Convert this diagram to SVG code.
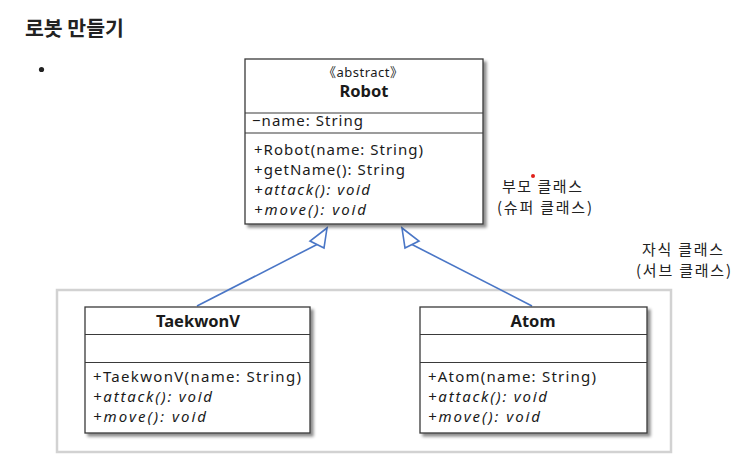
<svg xmlns="http://www.w3.org/2000/svg" width="747" height="460" viewBox="0 0 747 460">
  <style>
    text { font-family: "Noto Sans", "Noto Sans CJK KR", sans-serif; fill: #1a1a1a; }
    .ko { font-family: "Noto Sans CJK KR", "Noto Sans", sans-serif; }
    .title { font-size: 20.5px; font-weight: bold; fill: #222; }
    .name { font-size: 16.5px; font-weight: bold; text-anchor: middle; }
    .stereo { font-size: 13px; }
    .mem { font-size: 15px; }
    .abs { font-size: 15px; font-style: italic; }
    .label { font-size: 15px; fill: #222; }
    .box { fill: #fff; stroke: #3a3a3a; stroke-width: 1.3; }
    .div { stroke: #3a3a3a; stroke-width: 1.2; }
    .conn { stroke: #4a76c6; stroke-width: 1.6; fill: none; }
    .head { stroke: #4a76c6; stroke-width: 1.6; fill: #fff; stroke-linejoin: miter; }
  </style>
  <defs>
    <filter id="shadow" x="-5%" y="-5%" width="115%" height="115%">
      <feDropShadow dx="3" dy="3" stdDeviation="1.4" flood-color="#000" flood-opacity="0.45"/>
    </filter>
  </defs>
  <rect width="747" height="460" fill="#fff"/>

  <text class="title ko" x="25" y="36">로봇 만들기</text>
  <circle cx="41.5" cy="69.5" r="2.6" fill="#222"/>

  <rect id="subclass-area" x="57" y="290" width="614" height="162" fill="none" stroke="#d2d2d2" stroke-width="2.5"/>

  <g id="connectors">
    <line class="conn" x1="197" y1="306" x2="317" y2="244.5"/>
    <polygon class="head" points="327,228 310,241 324,248"/>
    <line class="conn" x1="532" y1="306" x2="412" y2="244.5"/>
    <polygon class="head" points="402,228 419,241 405,248"/>
  </g>

  <g id="robot">
    <rect class="box" x="245" y="59" width="238" height="165" filter="url(#shadow)"/>
    <text class="stereo" x="323" y="77" textLength="80">《abstract》</text>
    <text class="name" x="364" y="97">Robot</text>
    <line class="div" x1="245" y1="113" x2="483" y2="113"/>
    <text class="mem" x="252" y="126" textLength="111">−name: String</text>
    <line class="div" x1="245" y1="133" x2="483" y2="133"/>
    <text class="mem" x="254" y="155" textLength="169">+Robot(name: String)</text>
    <text class="mem" x="254" y="175" textLength="151">+getName(): String</text>
    <text class="abs" x="254" y="195" textLength="116">+attack(): void</text>
    <text class="abs" x="254" y="215" textLength="112">+move(): void</text>
  </g>

  <g id="taekwonv">
    <rect class="box" x="85" y="307" width="225" height="126" filter="url(#shadow)"/>
    <text class="name" x="198" y="327">TaekwonV</text>
    <line class="div" x1="85" y1="334.5" x2="310" y2="334.5"/>
    <line class="div" x1="85" y1="362.5" x2="310" y2="362.5"/>
    <text class="mem" x="93" y="382" textLength="208">+TaekwonV(name: String)</text>
    <text class="abs" x="93" y="402" textLength="119">+attack(): void</text>
    <text class="abs" x="93" y="422" textLength="113">+move(): void</text>
  </g>

  <g id="atom">
    <rect class="box" x="420" y="307" width="227" height="126" filter="url(#shadow)"/>
    <text class="name" x="533" y="327">Atom</text>
    <line class="div" x1="420" y1="334.5" x2="647" y2="334.5"/>
    <line class="div" x1="420" y1="362.5" x2="647" y2="362.5"/>
    <text class="mem" x="428" y="382" textLength="168">+Atom(name: String)</text>
    <text class="abs" x="428" y="402" textLength="119">+attack(): void</text>
    <text class="abs" x="428" y="422" textLength="112">+move(): void</text>
  </g>

  <g id="parent-label">
    <text class="label ko" x="502" y="192" textLength="80">부모 클래스</text>
    <text class="label ko" x="497" y="213" textLength="95">(슈퍼 클래스)</text>
    <circle cx="533" cy="176" r="2" fill="#e0201b"/>
  </g>

  <g id="child-label">
    <text class="label ko" x="642" y="255" textLength="81">자식 클래스</text>
    <text class="label ko" x="636" y="276" textLength="95">(서브 클래스)</text>
  </g>
</svg>
